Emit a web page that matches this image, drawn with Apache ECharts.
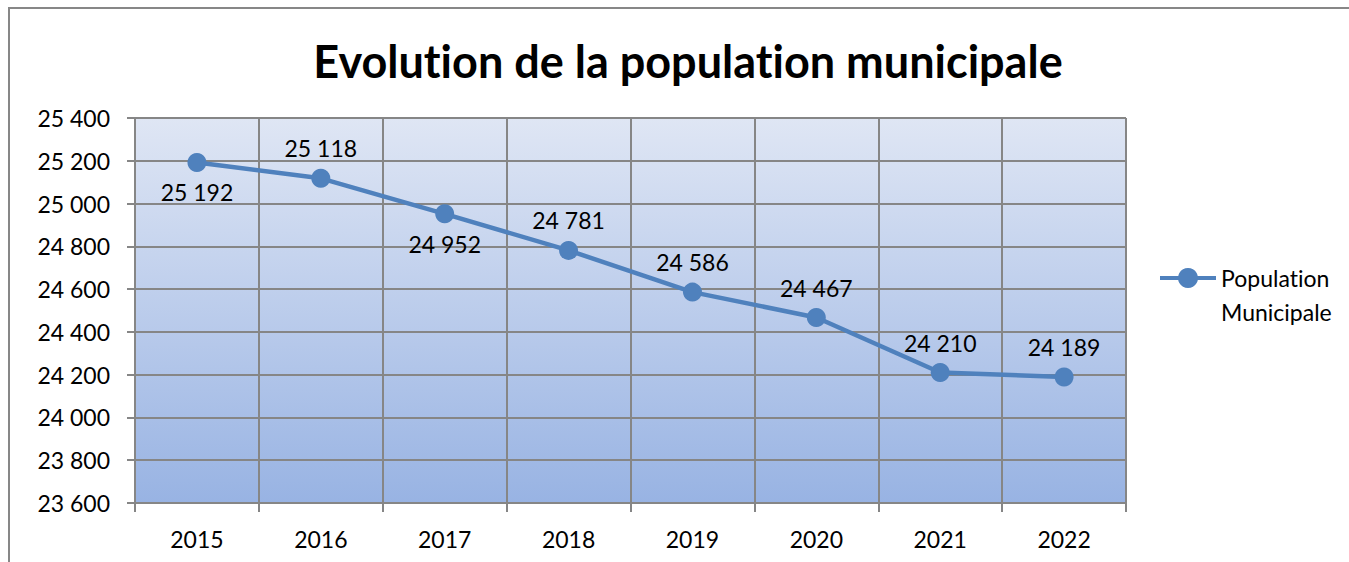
<!DOCTYPE html>
<html><head><meta charset="utf-8">
<script src="https://cdn.jsdelivr.net/npm/echarts@6/dist/echarts.min.js"></script>
<style>html,body{margin:0;padding:0;background:#fff}#c{width:1349px;height:562px}
#c text{font-variant-ligatures:none !important;}</style>
</head><body><div id="c"></div>
<script>
const categories = ['2015','2016','2017','2018','2019','2020','2021','2022'];
const population = [25192, 25118, 24952, 24781, 24586, 24467, 24210, 24189];
const labelBelow = [true, false, true, false, false, false, false, false];
const yMin = 23600, yMax = 25400, yStep = 200;
const FONT = 'Lato';
const fmt = v => String(v).replace(/\B(?=(\d{3})+(?!\d))/g, ' ');

const chart = echarts.init(document.getElementById('c'), null, { renderer: 'svg' });
chart.setOption({
  animation: false,
  backgroundColor: '#fff',
  textStyle: { fontFamily: FONT },
  title: {
    text: 'Evolution de la population municipale',
    left: 683, top: 33, textAlign: 'center',
    textStyle: { fontFamily: FONT, fontWeight: 'bold', fontSize: 45, color: '#000' }
  },
  graphic: [{
    type: 'rect', silent: true, z: -1,
    shape: { x: 9, y: 8, width: 1400, height: 600 },
    style: { fill: 'none', stroke: '#878787', lineWidth: 2 }
  }],
  grid: {
    left: 135, right: 223, top: 118, bottom: 59, show: true, borderWidth: 0,
    backgroundColor: new echarts.graphic.LinearGradient(0, 0, 0, 1, [
      { offset: 0, color: '#dfe6f4' }, { offset: 1, color: '#98b3e3' }
    ])
  },
  legend: {
    left: 1153, top: 222, itemWidth: 56, itemHeight: 25, itemGap: 6,
    lineStyle: { width: 4 },
    formatter: () => ' \nPopulation\nMunicipale',
    textStyle: { fontFamily: FONT, fontSize: 23, color: '#000', lineHeight: 34 }
  },
  xAxis: {
    type: 'category', data: categories, boundaryGap: true,
    axisLine: { lineStyle: { color: '#868686', width: 2 } },
    axisTick: { show: true, length: 9, lineStyle: { color: '#868686', width: 2 } },
    splitLine: { show: true, lineStyle: { color: '#868686', width: 2 } },
    axisLabel: { color: '#000', fontSize: 23, fontFamily: FONT, margin: 24 }
  },
  yAxis: {
    type: 'value', min: yMin, max: yMax, interval: yStep,
    axisLine: { show: true, lineStyle: { color: '#868686', width: 2 } },
    axisTick: { show: true, length: 8, lineStyle: { color: '#868686', width: 2 } },
    splitLine: { show: true, lineStyle: { color: '#868686', width: 2 } },
    axisLabel: { color: '#000', fontSize: 23, fontFamily: FONT, margin: 25, formatter: fmt }
  },
  series: [{
    name: 'Population Municipale', type: 'line',
    symbol: 'circle', symbolSize: 19,
    lineStyle: { color: '#4f81bd', width: 4.5 },
    itemStyle: { color: '#4f81bd' },
    label: { show: true, fontFamily: FONT, fontSize: 23, color: '#000', distance: 9, formatter: p => fmt(p.value) },
    data: population.map((v, i) => ({ value: v, label: { position: labelBelow[i] ? 'bottom' : 'top' } }))
  }]
});
</script></body></html>
